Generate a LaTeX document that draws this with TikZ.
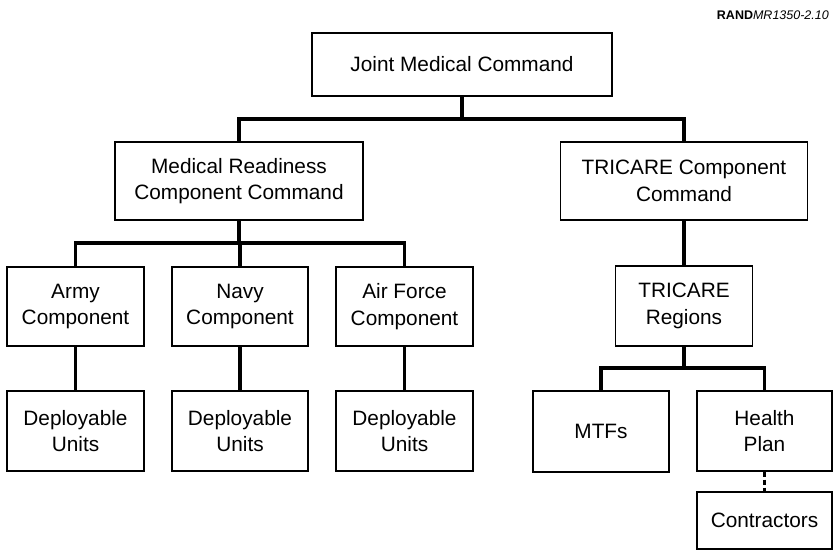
\documentclass[tikz,border=0pt]{standalone}
\usepackage{fontspec}
\setmainfont{Liberation Sans}
\begin{document}
\begin{tikzpicture}[x=1pt,y=-1pt,
  box/.style={draw=black, line width=1.2pt, rectangle, align=center, inner sep=0pt,
    font=\fontsize{20.8}{26.5}\selectfont},
  conn/.style={draw=black, line width=3.6pt},
  dots/.style={draw=black, line width=3.6pt, dash pattern=on 5pt off 3pt}]
\useasboundingbox (0,0) rectangle (833,550);
\node[anchor=east, inner sep=0pt] (tag) at (829,15)
  {\fontsize{12.5}{14}\selectfont\textbf{RAND}\textit{MR1350-2.10}};
% level 1
\node[box, minimum width=300pt, minimum height=63pt] (jmc) at (462,64.5) {Joint Medical Command};
% level 2
\node[box, minimum width=248pt, minimum height=78pt] (mrcc) at (239,181) {Medical Readiness\\Component Command};
\node[box, minimum width=247pt, minimum height=78pt] (tcc) at (684,181) {TRICARE Component\\Command};
% level 3
\node[box, minimum width=137pt, minimum height=79pt] (army) at (75.5,306.5) {Army\\Component};
\node[box, minimum width=136pt, minimum height=79pt] (navy) at (240,306.5) {Navy\\Component};
\node[box, minimum width=137pt, minimum height=79pt] (af) at (404.5,306.5) {Air Force\\Component};
\node[box, minimum width=137pt, minimum height=80pt] (treg) at (684,306) {TRICARE\\Regions};
% level 4
\node[box, minimum width=137pt, minimum height=80pt] (du1) at (75.5,431) {Deployable\\Units};
\node[box, minimum width=136pt, minimum height=80pt] (du2) at (240,431) {Deployable\\Units};
\node[box, minimum width=137pt, minimum height=80pt] (du3) at (404.5,431) {Deployable\\Units};
\node[box, minimum width=136pt, minimum height=81pt] (mtf) at (601,431.5) {MTFs};
\node[box, minimum width=135pt, minimum height=80pt] (hp) at (764.5,431) {Health\\Plan};
% level 5
\node[box, minimum width=135pt, minimum height=57pt] (con) at (764.5,520.5) {Contractors};
% bar levels
\coordinate (b1) at (0,119);
\coordinate (b2) at (0,243);
\coordinate (b3) at (0,368);
% connectors
\draw[conn] (jmc.south) -- (jmc.south |- b1);
\draw[conn] (mrcc.north) -- (mrcc.north |- b1) -- (tcc.north |- b1) -- (tcc.north);
\draw[conn] (mrcc.south) -- (mrcc.south |- b2);
\draw[conn] (army.north) -- (army.north |- b2) -- (af.north |- b2) -- (af.north);
\draw[conn] (navy.north) -- (navy.north |- b2);
\draw[conn] (tcc.south) -- (treg.north);
\draw[conn] (army.south) -- (du1.north);
\draw[conn] (navy.south) -- (du2.north);
\draw[conn] (af.south) -- (du3.north);
\draw[conn] (treg.south) -- (treg.south |- b3);
\draw[conn] (mtf.north) -- (mtf.north |- b3) -- (hp.north |- b3) -- (hp.north);
\draw[dots] (hp.south) -- (con.north);
\end{tikzpicture}
\end{document}
